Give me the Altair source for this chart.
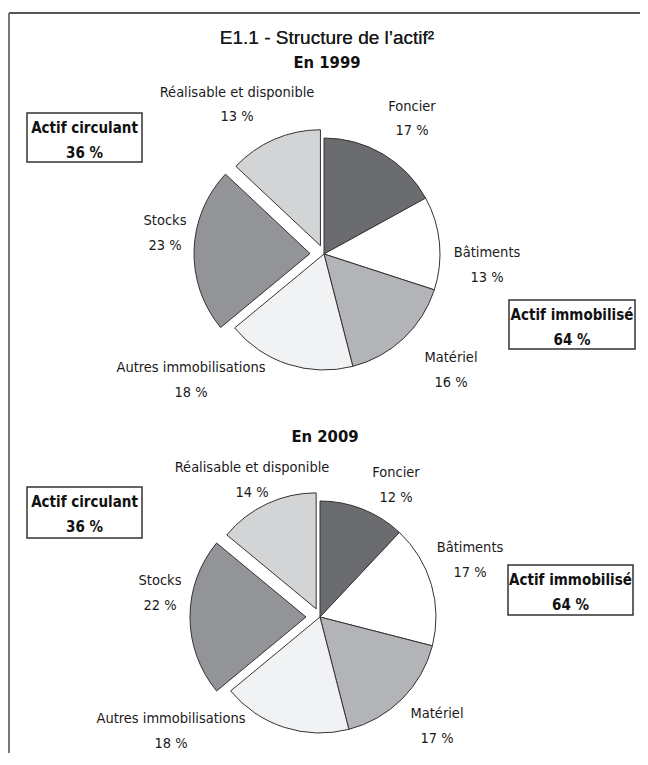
import math
import altair as alt
import pandas as pd

# ---------------- data ----------------
categories = ["Foncier", "Bâtiments", "Matériel", "Autres immobilisations",
              "Stocks", "Réalisable et disponible"]
groups = ["Actif immobilisé", "Actif immobilisé", "Actif immobilisé",
          "Actif immobilisé", "Actif circulant", "Actif circulant"]
years = ["1999", "2009"]
values_1999 = [17, 13, 16, 18, 23, 13]
values_2009 = [12, 17, 17, 18, 22, 14]
values_by_year = {"1999": values_1999, "2009": values_2009}
main_title = "E1.1 - Structure de l\u2019actif\u00b2"

# ---------------- layout / style ----------------
W, H = 632, 745
R = 116
CENTER = {"1999": (316, 246), "2009": (312, 609)}
YEAR_TITLE = {"1999": (319, 54.5), "2009": (317, 429)}
EXPLODE = {"Stocks": 14, "Réalisable et disponible": 9}
COLORS = ["#6b6c70", "#ffffff", "#b3b4b7", "#f1f2f4", "#939497", "#d3d4d6"]
# anchor of the first text line of each label (chart pixels)
LABEL_POS = {
    "1999": {"Foncier": (404, 98.5), "Bâtiments": (479, 245),
             "Matériel": (443, 350), "Autres immobilisations": (183, 360),
             "Stocks": (157, 213), "Réalisable et disponible": (229, 84.5)},
    "2009": {"Foncier": (388, 465), "Bâtiments": (462, 540),
             "Matériel": (429, 706), "Autres immobilisations": (163, 711),
             "Stocks": (152, 573), "Réalisable et disponible": (244, 460)},
}
BOX_POS = {
    "1999": {"Actif circulant": (19, 134, 105, 154),
             "Actif immobilisé": (501, 627, 292, 341)},
    "2009": {"Actif circulant": (19, 134, 479, 530),
             "Actif immobilisé": (500, 625, 557, 607)},
}
NARROW = "DejaVu Sans Condensed, Liberation Sans Narrow, sans-serif"
REGULAR = "Liberation Sans, Arial, sans-serif"

# ---------------- tables ----------------
slice_rows, box_rows, year_rows = [], [], []
for y in years:
    vals = values_by_year[y]
    cx, cy = CENTER[y]
    for i, (c, g, v) in enumerate(zip(categories, groups, vals)):
        lx, ly = LABEL_POS[y][c]
        slice_rows.append(dict(year=y, category=c, group=g, value=v, order=i,
                               cx=cx, cy=cy, explode=EXPLODE.get(c, 0),
                               lx=lx, ly=ly, label=f"{c}\n{v} %"))
    for g in ["Actif circulant", "Actif immobilisé"]:
        tot = sum(v for v, gg in zip(vals, groups) if gg == g)
        x1, x2, y1, y2 = BOX_POS[y][g]
        box_rows.append(dict(year=y, group=g, x1=x1, x2=x2, y1=y1, y2=y2,
                             tx=(x1 + x2) / 2, ty=y1 + 15,
                             label=f"{g}\n{tot} %"))
    tx, ty = YEAR_TITLE[y]
    year_rows.append(dict(tx=tx, ty=ty, label=f"En {y}"))

slices = pd.DataFrame(slice_rows)
boxes = pd.DataFrame(box_rows)
year_titles = pd.DataFrame(year_rows)

base = alt.Chart(slices).transform_joinaggregate(
    total="sum(value)", groupby=["year"]
).transform_window(
    cum="sum(value)", sort=[alt.SortField("order")], groupby=["year"],
    frame=[None, 0]
).transform_calculate(
    t0="2*PI*(datum.cum - datum.value)/datum.total",
    t1="2*PI*datum.cum/datum.total",
).transform_calculate(
    mid="(datum.t0 + datum.t1)/2"
).transform_calculate(
    px="datum.cx + datum.explode*sin(datum.mid)",
    py="datum.cy - datum.explode*cos(datum.mid)",
)

pies = base.mark_arc(outerRadius=R, stroke="#333333", strokeWidth=1).encode(
    x=alt.X("px:Q", scale=None),
    y=alt.Y("py:Q", scale=None),
    theta=alt.Theta("t0:Q", scale=None, stack=False),
    theta2="t1:Q",
    color=alt.Color("category:N", scale=alt.Scale(domain=categories, range=COLORS),
                    legend=None),
)

labels = alt.Chart(slices).mark_text(
    font=NARROW, fontSize=14.5, lineBreak="\n", lineHeight=24.5,
    align="center", baseline="middle", color="#1a1a1a"
).encode(
    x=alt.X("lx:Q", scale=None), y=alt.Y("ly:Q", scale=None), text="label:N"
)

box_rect = alt.Chart(boxes).mark_rect(
    fill="white", stroke="#333333", strokeWidth=1.5
).encode(
    x=alt.X("x1:Q", scale=None), x2="x2:Q",
    y=alt.Y("y1:Q", scale=None), y2="y2:Q",
)
box_text = alt.Chart(boxes).mark_text(
    font=NARROW, fontSize=15, fontWeight="bold", lineBreak="\n", lineHeight=25,
    align="center", baseline="middle", color="#111111"
).encode(
    x=alt.X("tx:Q", scale=None), y=alt.Y("ty:Q", scale=None), text="label:N"
)

year_text = alt.Chart(year_titles).mark_text(
    font=NARROW, fontSize=16.5, fontWeight="bold", align="center",
    baseline="middle", color="#111111"
).encode(
    x=alt.X("tx:Q", scale=None), y=alt.Y("ty:Q", scale=None), text="label:N"
)

title_text = alt.Chart(year_titles).mark_text(
    font=REGULAR, fontSize=19, align="center", baseline="middle", color="#1a1a1a"
).encode(
    x=alt.value(319), y=alt.value(29.5), text=alt.value(main_title)
)

frame_top = alt.Chart(year_titles).mark_rule(color="#555555", strokeWidth=2).encode(
    x=alt.value(1), x2=alt.value(W), y=alt.value(5)
)
frame_left = alt.Chart(year_titles).mark_rule(color="#777777", strokeWidth=2).encode(
    x=alt.value(1), y=alt.value(5), y2=alt.value(H)
)

chart = alt.layer(
    frame_top, frame_left, pies, labels, box_rect, box_text, year_text, title_text
).properties(
    width=W, height=H, padding=0,
    autosize=alt.AutoSizeParams(type="none"),
).configure_view(stroke=None)

chart.save("out.html", embed_options={"renderer": "svg", "actions": False})
